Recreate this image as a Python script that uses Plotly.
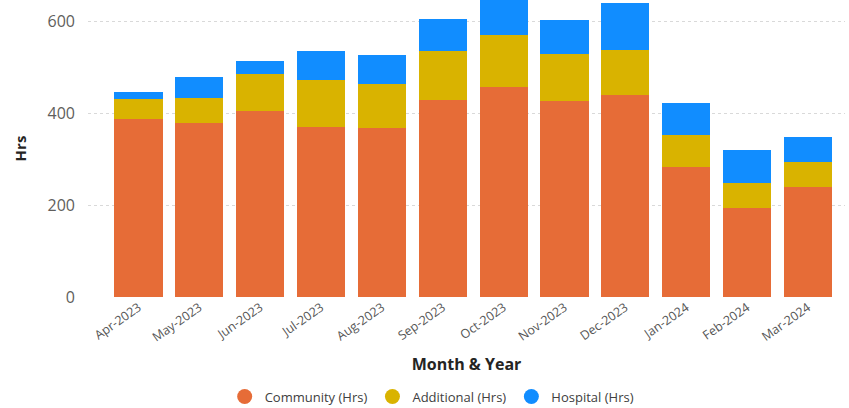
import plotly.graph_objects as go

months = ['Apr-2023', 'May-2023', 'Jun-2023', 'Jul-2023', 'Aug-2023', 'Sep-2023',
          'Oct-2023', 'Nov-2023', 'Dec-2023', 'Jan-2024', 'Feb-2024', 'Mar-2024']
community = [388, 378, 405, 371, 368, 428, 457, 427, 440, 282, 194, 240]
additional = [44, 56, 81, 102, 95, 107, 113, 103, 97, 71, 55, 55]
hospital = [15, 45, 27, 62, 64, 70, 85, 74, 104, 70, 72, 53]

series = [('Community (Hrs)', community, '#E66C37'),
          ('Additional (Hrs)', additional, '#D9B300'),
          ('Hospital (Hrs)', hospital, '#118DFF')]

fig = go.Figure()
for name, vals, col in series:
    fig.add_trace(go.Bar(x=months, y=vals, name=name, marker=dict(color=col, line=dict(width=0)),
                         showlegend=False))
# legend entries with round markers
for name, vals, col in series:
    fig.add_trace(go.Scatter(x=[None], y=[None], mode='markers', name=name,
                             marker=dict(color=col, size=15, symbol='circle')))

fig.update_layout(
    width=849, height=408,
    barmode='stack', bargap=0.21,
    plot_bgcolor='white', paper_bgcolor='white',
    margin=dict(l=88, r=4, t=0, b=110.5, autoexpand=False),
    font=dict(family='Open Sans', color='#605E5C'),
    legend=dict(orientation='h', x=0.454, xanchor='center', xref='paper',
                y=0.028, yanchor='middle', yref='container', traceorder='normal',
                font=dict(size=13, color='#404040'), itemwidth=30, tracegroupgap=0),
)
fig.update_xaxes(range=[-0.83, 11.61], tickangle=-35, tickfont=dict(size=12.5, color='#555555'),
                 showgrid=False, showline=False, ticks='', automargin=False,
                 title=dict(text='<b>Month & Year</b>', font=dict(size=16, color='#252423'), standoff=14))
fig.update_yaxes(range=[0, 646.7], tickvals=[0, 200, 400, 600], tickfont=dict(size=16, color='#605E5C'),
                 showgrid=True, gridcolor='#D9D9D9', griddash='dot', gridwidth=1,
                 zeroline=False, showline=False, ticklabelstandoff=12, automargin=False,
                 title=dict(text='<b>Hrs</b>', font=dict(size=15, color='#252423'), standoff=17))

# drop the default page margin so the 849x408 figure fills the window
fig.write_html("out.html", config={'displayModeBar': False},
               post_script="document.body.style.margin='0';")
